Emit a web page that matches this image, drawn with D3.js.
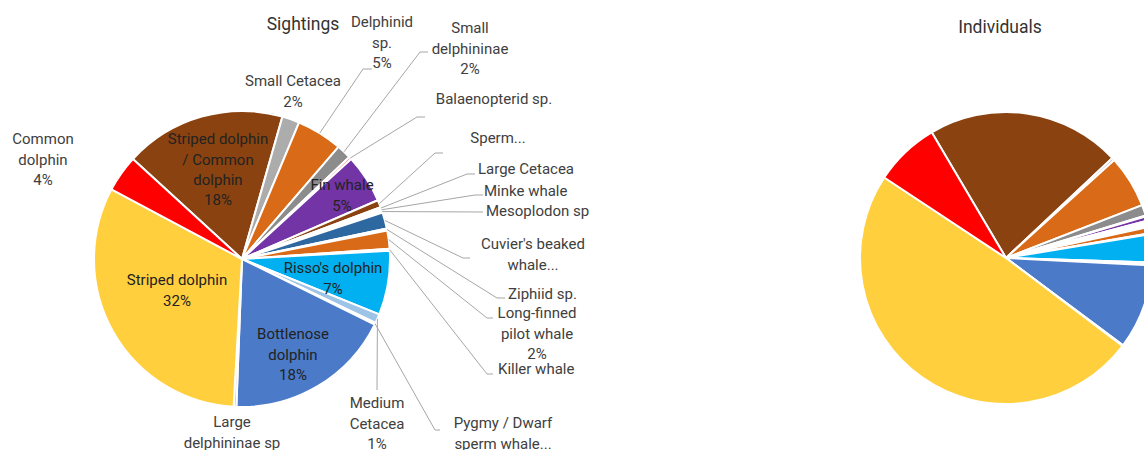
<!DOCTYPE html>
<html>
<head>
<meta charset="utf-8">
<script src="https://cdn.jsdelivr.net/npm/d3@7"></script>
<style>
  body { margin: 0; background: #fff; }
  svg { display: block; font-family: Roboto, "Noto Sans", sans-serif; }
</style>
</head>
<body>
<div id="chart-area"></div>
<script>
// Data (percent of total), slices listed clockwise
const species = [
	"Striped dolphin / Common dolphin", "Small Cetacea", "Delphinid sp.", "Small delphininae",
	"Balaenopterid sp.", "Fin whale", "Sperm whale", "Large Cetacea", "Minke whale",
	"Mesoplodon sp", "Cuvier's beaked whale", "Ziphiid sp.", "Long-finned pilot whale",
	"Killer whale", "Risso's dolphin", "Medium Cetacea", "Pygmy / Dwarf sperm whale",
	"Bottlenose dolphin", "Large delphininae sp", "Striped dolphin", "Common dolphin"
]
const sightings = [17.6, 1.9, 5.0, 1.6, 0.3, 5.3, 0.8, 0.2, 0.2, 0.2, 1.8, 0.2, 2.0, 0.2, 7.0, 1.0, 0.2, 18.3, 0.3, 31.9, 4.0]
const individuals = [21.5, 0.3, 5.8, 1.2, 0.1, 0.5, 0.1, 0.1, 0.1, 0.1, 0.2, 0.1, 0.7, 0.1, 3.1, 0.2, 0.1, 9.4, 0.1, 49.0, 7.2]

// Label text as printed on the chart (wrapped / truncated), and whether the % is shown
const labelLines = [
	["Striped dolphin", "/ Common", "dolphin"], ["Small Cetacea"], ["Delphinid", "sp."], ["Small", "delphininae"],
	["Balaenopterid sp."], ["Fin whale"], ["Sperm..."], ["Large Cetacea"], ["Minke whale"],
	["Mesoplodon sp"], ["Cuvier's beaked", "whale..."], ["Ziphiid sp."], ["Long-finned", "pilot whale"],
	["Killer whale"], ["Risso's dolphin"], ["Medium", "Cetacea"], ["Pygmy / Dwarf", "sperm whale..."],
	["Bottlenose", "dolphin"], ["Large", "delphininae sp"], ["Striped dolphin"], ["Common", "dolphin"]
]
const showPct = [true, true, true, true, false, true, false, false, false, false, false, false, true,
	false, true, true, false, true, false, true, true]

// Slice colours
const palette = [
	"#8a4210", "#acacac", "#d86a18", "#8c8c8c", "#ff7777", "#7334a6", "#8a4210", "#c9c9c9",
	"#9dc3e6", "#ddebf7", "#2e68a0", "#bdd7ee", "#d86a18", "#a9d18e", "#00b0f0", "#9dc3e6",
	"#deebf7", "#4a7ac8", "#bfbfbf", "#ffcf3d", "#ff0000"
]

// Label placement for the Sightings pie (dragged labels, Excel style)
const labelLayout = [
	{ x: 218, y: 139, anchor: "middle", inside: true },
	{ x: 293, y: 81, anchor: "middle" },
	{ x: 382, y: 22, anchor: "middle", leader: [[363, 69], [372, 69]] },
	{ x: 470, y: 28, anchor: "middle", leader: [[420, 52], [428, 52]] },
	{ x: 494, y: 99, anchor: "middle", leader: [[417, 117], [425, 117]] },
	{ x: 342, y: 185, anchor: "middle", inside: true },
	{ x: 498, y: 138, anchor: "middle", leader: [[435, 153], [443, 153]] },
	{ x: 478, y: 169, anchor: "start", leader: [[467, 174], [475, 174]] },
	{ x: 484, y: 191, anchor: "start", leader: [[475, 195], [483, 195]] },
	{ x: 486, y: 211, anchor: "start", leader: [[483, 212]] },
	{ x: 533, y: 244, anchor: "middle", leader: [[463, 258], [470, 258]] },
	{ x: 508, y: 294, anchor: "start", leader: [[497, 298], [505, 298]] },
	{ x: 537, y: 313, anchor: "middle", leader: [[487, 318], [493, 318]] },
	{ x: 498, y: 369, anchor: "start", leader: [[487, 374], [493, 374]] },
	{ x: 333, y: 268, anchor: "middle", inside: true },
	{ x: 377, y: 403, anchor: "middle", leader: [[377, 390]] },
	{ x: 503, y: 423, anchor: "middle", leader: [[435, 430], [440, 430]] },
	{ x: 293, y: 334, anchor: "middle", inside: true },
	{ x: 232, y: 422, anchor: "middle" },
	{ x: 177, y: 280, anchor: "middle", inside: true },
	{ x: 43, y: 139, anchor: "middle" }
]

const WIDTH = 1144
const HEIGHT = 450
const LINE_H = 20.3
const deg = Math.PI / 180

const svg = d3.select("#chart-area").append("svg")
	.attr("width", WIDTH)
	.attr("height", HEIGHT)

const total = d3.sum(sightings)
const pctFmt = v => Math.round(v / total * 100) + "%"

// Draw one pie
function drawPie(values, cx, cy, r, start) {
	const pie = d3.pie().sort(null).value(d => d)
		.startAngle(start * deg).endAngle(start * deg + 2 * Math.PI)
	const arc = d3.arc().innerRadius(0).outerRadius(r)
	const g = svg.append("g").attr("transform", `translate(${cx}, ${cy})`)
	const arcs = pie(values)
	g.selectAll("path")
		.data(arcs)
		.enter().append("path")
		.attr("d", arc)
		.attr("fill", (d, i) => palette[i])
		.attr("stroke", "#fff")
		.attr("stroke-width", 2)
		.attr("stroke-linejoin", "round")
	return arcs
}

const SC = { x: 242, y: 259, r: 148 }
const sightArcs = drawPie(sightings, SC.x, SC.y, SC.r, -47.5)
drawPie(individuals, 1006, 258, 146, -30.6)

// Leader lines
const line = d3.line()
sightArcs.forEach((a, i) => {
	const lay = labelLayout[i]
	if (!lay.leader) return
	const mid = (a.startAngle + a.endAngle) / 2
	const p0 = [SC.x + SC.r * Math.sin(mid), SC.y - SC.r * Math.cos(mid)]
	svg.append("path")
		.attr("d", line([p0, ...lay.leader]))
		.attr("fill", "none")
		.attr("stroke", "#a6a6a6")
		.attr("stroke-width", 1)
})

// Data labels
sightArcs.forEach((a, i) => {
	const lay = labelLayout[i]
	const lines = showPct[i] ? [...labelLines[i], pctFmt(sightings[i])] : labelLines[i]
	const t = svg.append("text")
		.attr("x", lay.x)
		.attr("y", lay.y)
		.attr("text-anchor", lay.anchor)
		.attr("font-size", "15px")
		.attr("fill", lay.inside ? "#222" : "#404040")
	lines.forEach((s, k) => {
		t.append("tspan")
			.attr("x", lay.x)
			.attr("y", lay.y + k * LINE_H)
			.attr("dy", "0.35em")
			.text(s)
	})
})

// Titles
svg.append("text")
	.attr("x", 303).attr("y", 30)
	.attr("text-anchor", "middle")
	.attr("font-size", "17.5px")
	.attr("fill", "#333")
	.text("Sightings")

svg.append("text")
	.attr("x", 1000).attr("y", 33)
	.attr("text-anchor", "middle")
	.attr("font-size", "17.5px")
	.attr("fill", "#333")
	.text("Individuals")
</script>
</body>
</html>
